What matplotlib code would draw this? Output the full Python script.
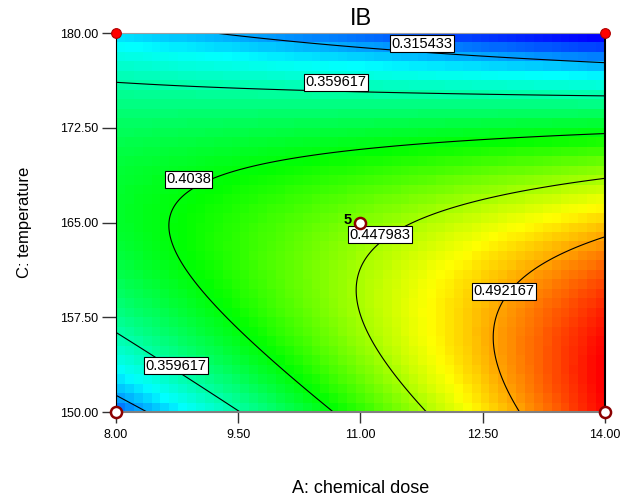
import numpy as np
import matplotlib
matplotlib.use("Agg")
import matplotlib.pyplot as plt
from matplotlib.colors import LinearSegmentedColormap

plt.rcParams['font.family'] = ['Liberation Sans', 'DejaVu Sans']

# factor ranges and ticks
dose_range = [8.0, 14.0]
temp_range = [150.0, 180.0]
x_ticks = [8.00, 9.50, 11.00, 12.50, 14.00]
y_ticks = [150.00, 157.50, 165.00, 172.50, 180.00]

# quadratic model for IB in coded units: intercept, A, C, AC, A^2, C^2
coef = [0.4385, 0.0443, -0.0588, -0.0717, 0.0, -0.0806]

# contour levels and where their labels sit
levels = [0.315433, 0.359617, 0.4038, 0.447983, 0.492167]
label_lvl = ["0.315433", "0.359617", "0.4038", "0.447983", "0.492167", "0.359617"]
label_x = [11.75, 10.70, 8.89, 11.24, 12.76, 8.74]
label_y = [179.15, 176.11, 168.42, 164.05, 159.56, 153.68]

# design points
pt_x = [8.0, 14.0, 8.0, 14.0, 11.0]
pt_y = [180.0, 180.0, 150.0, 150.0, 165.0]
pt_filled = [True, True, False, False, False]
center_reps = "5"

def ib_model(A, C):
    a = (A - 11.0) / 3.0
    c = (C - 165.0) / 15.0
    b0, b1, b2, b12, b11, b22 = coef
    return b0 + b1*a + b2*c + b12*a*c + b11*a**2 + b22*c**2

# colour cells
xe = np.linspace(dose_range[0], dose_range[1], 56)
ye = np.linspace(temp_range[0], temp_range[1], 41)
xc = (xe[:-1] + xe[1:]) / 2
yc = (ye[:-1] + ye[1:]) / 2
XC, YC = np.meshgrid(xc, yc)
Z_cells = ib_model(XC, YC)

# fine grid for contour lines
xf = np.linspace(dose_range[0], dose_range[1], 300)
yf = np.linspace(temp_range[0], temp_range[1], 300)
XF, YF = np.meshgrid(xf, yf)
Z_fine = ib_model(XF, YF)

cmap = LinearSegmentedColormap.from_list(
    "de", [(0.0, "#0000ff"), (0.22, "#00ffff"), (0.5, "#00ff00"),
           (0.75, "#ffff00"), (1.0, "#ff0000")])

fig = plt.figure(figsize=(6.2, 4.97), dpi=100)
ax = fig.add_axes([0.1871, 0.1710, 0.7887, 0.7626])

ax.pcolormesh(xe, ye, Z_cells, cmap=cmap, shading='flat',
              vmin=Z_cells.min(), vmax=Z_cells.max())
ax.contour(XF, YF, Z_fine, levels=levels, colors='black', linewidths=0.8)

for lx, ly, txt in zip(label_x, label_y, label_lvl):
    ax.text(lx, ly, txt, fontsize=10.5, ha='center', va='center', zorder=5,
            bbox=dict(boxstyle='square,pad=0.1', fc='white', ec='black', lw=0.8))

for px, py, filled in zip(pt_x, pt_y, pt_filled):
    if filled:
        ax.plot(px, py, 'o', ms=7, mfc='#ff0000', mec='#b00000', mew=0.8,
                clip_on=False, zorder=6)
    else:
        ax.plot(px, py, 'o', ms=8, mfc='white', mec='#8b0000', mew=1.8,
                clip_on=False, zorder=6)

ax.annotate(center_reps, (pt_x[4], pt_y[4]), xytext=(-9.5, 1.5),
            textcoords='offset points', ha='center', va='center',
            fontsize=10.5, fontweight='bold', zorder=7)

ax.set_xlim(dose_range)
ax.set_ylim(temp_range)
ax.set_xticks(x_ticks)
ax.set_yticks(y_ticks)
ax.set_xticklabels(["%.2f" % v for v in x_ticks])
ax.set_yticklabels(["%.2f" % v for v in y_ticks])
ax.tick_params(axis='x', length=8, width=1, pad=4, labelsize=9, colors='#333333',
               labelcolor='black')
ax.tick_params(axis='y', length=10, width=1, pad=3, labelsize=9, colors='#333333',
               labelcolor='black')

ax.spines['left'].set_color('black')
ax.spines['right'].set_color('black')
ax.spines['right'].set_linewidth(1.5)
ax.spines['top'].set_color('#a0a0a0')
ax.spines['bottom'].set_color('#808080')
ax.spines['bottom'].set_linewidth(1.5)

ax.set_xlabel('A: chemical dose', fontsize=13, labelpad=28)
ax.set_ylabel('C: temperature', fontsize=12, labelpad=20)
ax.set_title('IB', fontsize=17, pad=6)

fig.savefig('out.png', dpi=100)
